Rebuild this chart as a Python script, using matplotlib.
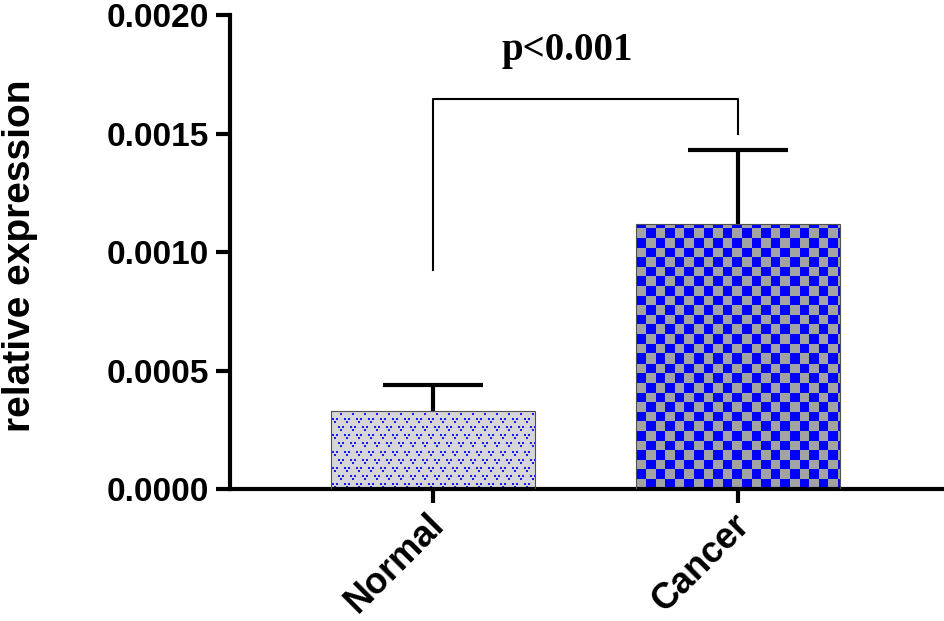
import numpy as np
import matplotlib
matplotlib.use('Agg')
import matplotlib.pyplot as plt
from matplotlib.transforms import ScaledTranslation

# data
groups = ['Normal', 'Cancer']
means = [0.00033, 0.00112]
sds = [0.00011, 0.00031]
yticks = [0.0, 0.0005, 0.0010, 0.0015, 0.0020]
ytick_labels = ['0.0000', '0.0005', '0.0010', '0.0015', '0.0020']
p_text = 'p<0.001'
bracket_left, bracket_top, bracket_right = 0.000925, 0.001646, 0.0015

plt.rcParams['font.family'] = ['Liberation Sans', 'DejaVu Sans']
plt.rcParams['font.weight'] = 'bold'

W, H = 945, 621
fig = plt.figure(figsize=(W / 100, H / 100), dpi=100)
ax = fig.add_axes([230 / W, 1 - 489 / H, 715 / W, (489 - 15) / H])

x = np.arange(len(groups))
bw = 0.669
ax.set_xlim(-0.666, 1.679)
ax.set_ylim(0, 0.002)

bars = ax.bar(x, means, width=bw, color='#d4d4d4', edgecolor='#505050', linewidth=0.8, zorder=2)


def pattern(kind, w, h):
    jj, ii = np.meshgrid(np.arange(w), np.arange(h))
    img = np.zeros((h, w, 3))
    if kind == 'checker':
        c = 9.6
        blue = ((np.floor(ii / c) + np.floor(jj / c)) % 2).astype(bool)
        img[:] = (0.64, 0.64, 0.64)
        img[blue] = (0.0, 0.0, 1.0)
    else:
        img[:] = (0.84, 0.84, 0.85)
        # little "v" of three dots, repeated on a staggered grid
        dots = np.zeros((h, w), bool)
        for ox, oy in [(1, 1), (7, 9)]:
            for dx, dy in [(0, 3), (4, 3), (2, 0)]:
                xx = (jj - ox - dx) % 12
                yy = (ii - oy - dy) % 16
                dots |= (xx < 2) & (yy < 2)
        img[dots] = (0.1, 0.1, 1.0)
    return img


for b, kind in zip(bars, ['dots', 'checker']):
    x0, y0 = b.get_x(), 0
    x1, y1 = b.get_x() + b.get_width(), b.get_height()
    p0 = ax.transData.transform((x0, y0))
    p1 = ax.transData.transform((x1, y1))
    wpx = int(round(p1[0] - p0[0]))
    hpx = int(round(p1[1] - p0[1]))
    im = ax.imshow(pattern(kind, wpx, hpx), extent=(x0, x1, y0, y1), origin='lower',
                   interpolation='nearest', aspect='auto', zorder=2.5)
    im.set_clip_path(b)
    b.set_facecolor('none')
    b.set_zorder(3)

eb = ax.errorbar(x, means, yerr=[[0, 0], sds], fmt='none', ecolor='black',
                 elinewidth=3, capsize=36, capthick=3, zorder=1)
eb[1][0].set_visible(False)  # no cap at the bar top

ax.plot([0, 0, 1, 1], [bracket_left, bracket_top, bracket_top, bracket_right],
        color='black', lw=1.5, zorder=4)
ax.text(0.44, 0.001852, p_text, ha='center', va='center', fontsize=28,
        fontweight='bold', family=['Liberation Serif', 'DejaVu Serif'])

ax.set_xlim(-0.666, 1.679)
ax.set_ylim(0, 0.002)

for s in ['top', 'right']:
    ax.spines[s].set_visible(False)
for s in ['left', 'bottom']:
    ax.spines[s].set_linewidth(3)
    ax.spines[s].set_capstyle('projecting')

ax.set_yticks(yticks)
ax.set_yticklabels(ytick_labels, fontsize=24, fontweight='bold')
ax.set_xticks(x)
ax.set_xticklabels(groups, fontsize=26, fontweight='bold', rotation=45,
                   ha='right', va='center', rotation_mode='anchor')
ax.tick_params(axis='both', width=3, length=10, color='black')
ax.tick_params(axis='y', pad=5)
ax.tick_params(axis='x', pad=12)
for lab in ax.get_xticklabels():
    lab.set_transform(lab.get_transform() + ScaledTranslation(6 / 100, 0, fig.dpi_scale_trans))

fig.text(20 / W, 1 - 256 / H, 'relative expression', rotation=90, ha='center',
         va='center', fontsize=28, fontweight='bold')

fig.savefig('out.png', dpi=100)
